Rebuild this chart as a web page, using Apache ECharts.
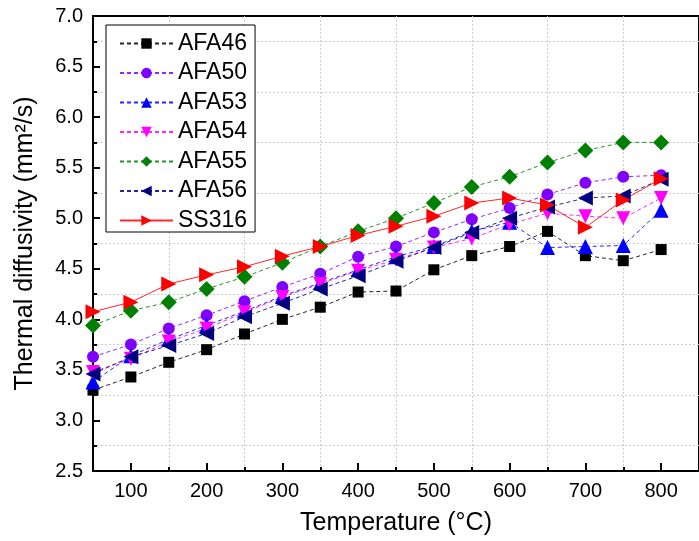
<!DOCTYPE html>
<html>
<head>
<meta charset="utf-8">
<script src="https://cdn.jsdelivr.net/npm/echarts@6/dist/echarts.min.js"></script>
<style>html,body{margin:0;padding:0;background:#fff;}#chart{width:699px;height:541px;}</style>
</head>
<body>
<div id="chart"></div>
<script>
const temperatures = [50, 100, 150, 200, 250, 300, 350, 400, 450, 500, 550, 600, 650, 700, 750, 800];
const xTickLabels = [100, 200, 300, 400, 500, 600, 700, 800];
const seriesNames = ['AFA46', 'AFA50', 'AFA53', 'AFA54', 'AFA55', 'AFA56', 'SS316'];
const afa46 = [3.30, 3.43, 3.575, 3.70, 3.855, 4.00, 4.12, 4.27, 4.28, 4.49, 4.63, 4.72, 4.87, 4.63, 4.58, 4.69];
const afa50 = [3.63, 3.75, 3.91, 4.04, 4.18, 4.32, 4.45, 4.62, 4.72, 4.86, 4.99, 5.10, 5.235, 5.35, 5.41, 5.425];
const afa53 = [3.38, 3.64, 3.80, 3.94, 4.08, 4.23, 4.36, 4.49, 4.62, 4.72, 4.87, 4.96, 4.71, 4.72, 4.73, 5.08];
const afa54 = [3.48, 3.61, 3.78, 3.91, 4.07, 4.22, 4.35, 4.48, 4.59, 4.71, 4.80, 4.94, 5.05, 5.02, 5.00, 5.20];
const afa55 = [3.94, 4.085, 4.17, 4.30, 4.42, 4.56, 4.72, 4.87, 5.00, 5.15, 5.31, 5.41, 5.55, 5.67, 5.75, 5.75];
const afa56 = [3.46, 3.63, 3.74, 3.86, 4.025, 4.16, 4.30, 4.43, 4.575, 4.71, 4.86, 5.00, 5.11, 5.20, 5.22, 5.385];
const ss316 = [4.075, 4.17, 4.35, 4.44, 4.52, 4.625, 4.72, 4.83, 4.92, 5.02, 5.15, 5.20, 5.13, 4.91, 5.18, 5.39];

const seriesValues = [afa46, afa50, afa53, afa54, afa55, afa56, ss316];
const colors = ['#000000', '#8000FF', '#0000FF', '#FF00FF', '#008000', '#000080', '#FF0000'];
const symbols = ['rect', 'circle', 'triangle', 'triangle', 'diamond', 'triangle', 'triangle'];
const symbolRotates = [0, 0, 0, 180, 0, 90, -90];
const symbolSizes = [11, 12, 15, 14, 16, 15, 15];
const lineTypes = [[4, 3], [4, 3], [4, 3], [4, 3], [4, 3], [4, 3], 'solid'];

const FONT = 'Liberation Sans';

const chart = echarts.init(document.getElementById('chart'), null, {renderer: 'canvas'});

const series = seriesNames.map((name, i) => ({
  name: name,
  type: 'line',
  data: temperatures.map((t, j) => [t, seriesValues[i][j]]),
  symbol: symbols[i],
  symbolSize: symbolSizes[i],
  symbolRotate: symbolRotates[i],
  itemStyle: {color: colors[i]},
  lineStyle: {color: colors[i], width: 1, type: lineTypes[i], opacity: 0.85},
  emphasis: {disabled: true},
  animation: false,
  clip: true
}));

chart.setOption({
  animation: false,
  backgroundColor: '#ffffff',
  textStyle: {fontFamily: FONT},
  grid: {left: 93, right: -9, top: 16, bottom: 66, show: true, borderColor: '#000', borderWidth: 2, containLabel: false},
  legend: {
    orient: 'vertical',
    left: 106,
    top: 25,
    data: seriesNames,
    itemWidth: 53,
    itemHeight: 13,
    itemGap: 6.5,
    padding: [7, 8, 0, 13],
    borderColor: '#000',
    borderWidth: 1,
    backgroundColor: '#fff',
    textStyle: {fontSize: 23, color: '#000', fontFamily: FONT},
    symbolRotate: 'inherit'
  },
  xAxis: {
    type: 'value',
    min: 50,
    max: 850,
    interval: 100,
    name: 'Temperature (°C)',
    nameLocation: 'middle',
    nameGap: 40,
    nameTextStyle: {fontSize: 25, color: '#000', fontFamily: FONT},
    axisLine: {show: true, onZero: false, lineStyle: {color: '#000', width: 2}},
    axisTick: {show: true, inside: true, length: 4, lineStyle: {color: '#000', width: 2}},
    minorTick: {show: true, splitNumber: 2, length: 8, lineStyle: {color: '#000', width: 2}},
    axisLabel: {show: true, customValues: xTickLabels, fontSize: 20, color: '#000', margin: 10, fontFamily: FONT},
    splitLine: {show: true, lineStyle: {color: '#cccccc', width: 1, type: [2, 2]}},
    minorSplitLine: {show: false}
  },
  yAxis: {
    type: 'value',
    min: 2.5,
    max: 7.0,
    interval: 0.5,
    name: 'Thermal diffusivity (mm²/s)',
    nameLocation: 'middle',
    nameGap: 55,
    nameRotate: 90,
    nameTextStyle: {fontSize: 25, color: '#000', fontFamily: FONT},
    axisLine: {show: true, onZero: false, lineStyle: {color: '#000', width: 2}},
    axisTick: {show: true, inside: true, length: 7, lineStyle: {color: '#000', width: 2}},
    minorTick: {show: true, splitNumber: 2, length: 4, lineStyle: {color: '#000', width: 2}},
    axisLabel: {fontSize: 20, color: '#000', margin: 10, fontFamily: FONT, formatter: v => v.toFixed(1)},
    splitLine: {show: false},
    minorSplitLine: {show: true, lineStyle: {color: '#cccccc', width: 1, type: [2, 2]}}
  },
  series: series
});
</script>
</body>
</html>
